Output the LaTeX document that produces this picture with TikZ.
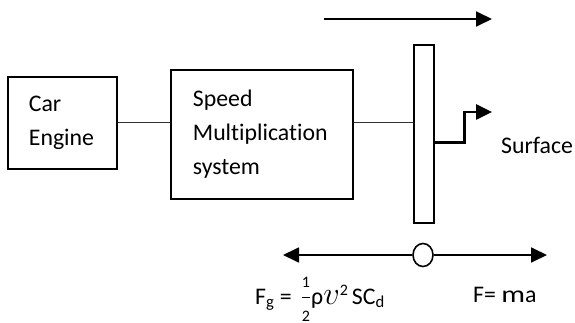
\documentclass[tikz,border=0pt]{standalone}
\usepackage{amsmath}
\usepackage{fontspec}
\setmainfont[Ligatures=NoCommon]{Carlito}
\usepackage{tikz}
\usetikzlibrary{positioning, arrows.meta, shapes.geometric}

\newcommand{\halfsize}[1]{\mbox{\fontsize{16}{16}\selectfont #1}}

\begin{document}
\begin{tikzpicture}[
    x=1pt, y=-1pt,
    box/.style={draw, line width=1.8pt, inner sep=0pt, align=left, font=\fontsize{23.8}{34}\selectfont},
    bar/.style={draw, line width=1.6pt, inner sep=0pt, minimum width=20pt, minimum height=178pt},
    link/.style={line width=1.2pt, draw=black!80},
    arrow/.style={-{Triangle[length=16pt, width=15pt]}, line width=1.8pt},
    thickarrow/.style={-{Triangle[length=16pt, width=15pt]}, line width=2.6pt},
    label/.style={inner sep=0pt, font=\fontsize{23.8}{34}\selectfont}
]
    \useasboundingbox (0,0) rectangle (575,323);

    % Car engine
    \node[box, anchor=north west, minimum width=109pt, minimum height=92pt, text width=67pt] (engine) at (7,76) {Car\\Engine};

    % Speed multiplication system
    \node[box, anchor=north west, minimum width=182pt, minimum height=129pt, text width=138pt] (speed) at (170,69) {Speed\\Multiplication\\system};

    % Wheel (side view)
    \node[bar, anchor=north west] (wheel) at (413,44) {};

    % Contact point
    \node[draw, ellipse, line width=1.6pt, minimum width=20pt, minimum height=23pt, inner sep=0pt] (pivot) at (423,255) {};

    % Free ends
    \coordinate (topstart) at (324,19);
    \coordinate (topend) at (492,19);
    \coordinate (surfend) at (492,112);
    \coordinate (dragend) at (283,255);
    \coordinate (thrustend) at (547,255);

    % Labels
    \node[label, anchor=base west] (surface) at (501,154) {Surface};
    \node[label, anchor=base west] (drag) at (255,304) {F\textsubscript{g} =\hspace{9pt}$\genfrac{}{}{0.8pt}{0}{\halfsize{1}}{\halfsize{2}}$ρ\scalebox{1.3}{$v$}\raisebox{9pt}{\halfsize{2}}\,SC\textsubscript{d}};
    \node[label, anchor=base west] (force) at (473,302) {F= \scalebox{1.25}[1]{m}a};

    % Connectors
    \draw[link] (engine.east) -- (engine.east -| speed.west);
    \draw[link] (speed.east |- engine.east) -- (wheel.west |- engine.east);

    % Arrows
    \draw[arrow] (topstart) -- (topend);
    \draw[thickarrow] ([yshift=-9pt]wheel.east) -- ++(30,0) |- (surfend);
    \draw[arrow] (pivot.west) -- (dragend);
    \draw[arrow] (pivot.east) -- (thrustend);

\end{tikzpicture}
\end{document}
